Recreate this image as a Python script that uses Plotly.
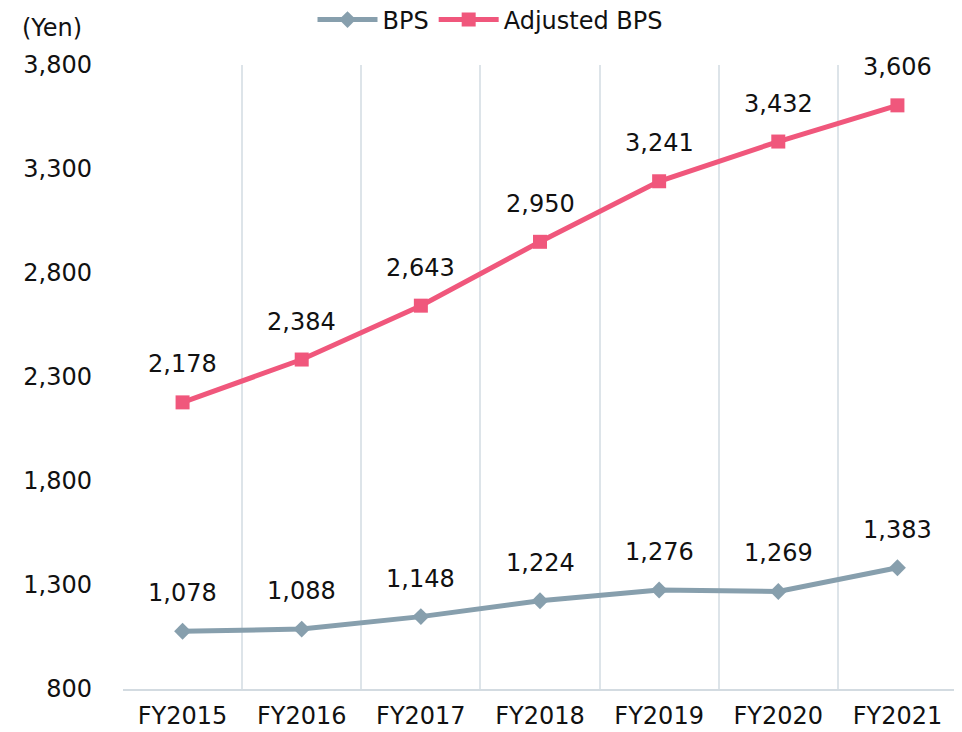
import plotly.graph_objects as go

categories = ["FY2015", "FY2016", "FY2017", "FY2018", "FY2019", "FY2020", "FY2021"]
bps = [1078, 1088, 1148, 1224, 1276, 1269, 1383]
adjusted_bps = [2178, 2384, 2643, 2950, 3241, 3432, 3606]
y_ticks = [800, 1300, 1800, 2300, 2800, 3300, 3800]

FONT = "DejaVu Sans"
FS = 24
C_BPS = "#879FAD"
C_ADJ = "#F0577C"

# page has an 8px body offset; figure coordinates = page coordinates - 8
OFF = 8
W, H = 962 - OFF, 732 - OFF
L, R, T, B = 123 - OFF, 5, 65 - OFF, 43
PW, PH = W - L - R, H - T - B

fig = go.Figure()
fig.add_trace(go.Scatter(x=categories, y=bps, name="BPS", mode="lines+markers",
                         line=dict(color=C_BPS, width=5),
                         marker=dict(symbol="diamond", size=13, color=C_BPS)))
fig.add_trace(go.Scatter(x=categories, y=adjusted_bps, name="Adjusted BPS", mode="lines+markers",
                         line=dict(color=C_ADJ, width=5),
                         marker=dict(symbol="square", size=14, color=C_ADJ)))

annotations = []
for series in (bps, adjusted_bps):
    for c, v in zip(categories, series):
        annotations.append(dict(x=c, y=v, text=f"{v:,}", showarrow=False, yshift=38,
                                font=dict(family=FONT, size=FS, color="#111111")))
annotations.append(dict(xref="paper", yref="paper", x=(52 - OFF - L) / PW, y=1 + (T - (28 - OFF)) / PH,
                        xanchor="center", yanchor="middle",
                        text="(Yen)", showarrow=False,
                        font=dict(family=FONT, size=FS, color="#111111")))

fig.update_layout(
    width=W, height=H,
    margin=dict(l=L, r=R, t=T, b=B, autoexpand=False),
    paper_bgcolor="white", plot_bgcolor="white",
    font=dict(family=FONT, size=FS, color="#111111"),
    showlegend=True,
    legend=dict(orientation="h", x=(490 - OFF - L) / PW, xanchor="center",
                y=1 + (T - (20 - OFF)) / PH, yanchor="middle",
                font=dict(family=FONT, size=FS), itemwidth=60, traceorder="normal"),
    annotations=annotations,
    xaxis=dict(type="category", tickson="boundaries", showgrid=True, gridcolor="#DDE4E9", gridwidth=1.5,
               showline=True, linecolor="#D3DBE1", linewidth=1.5, ticks="", ticklabelstandoff=4,
               range=[-0.5, 6.5], zeroline=False),
    yaxis=dict(range=[800, 3800], tickvals=y_ticks, ticktext=[f"{v:,}" for v in y_ticks],
               showgrid=False, zeroline=False, showline=False, ticks="", ticklabelstandoff=30),
)

fig.write_html("out.html")
